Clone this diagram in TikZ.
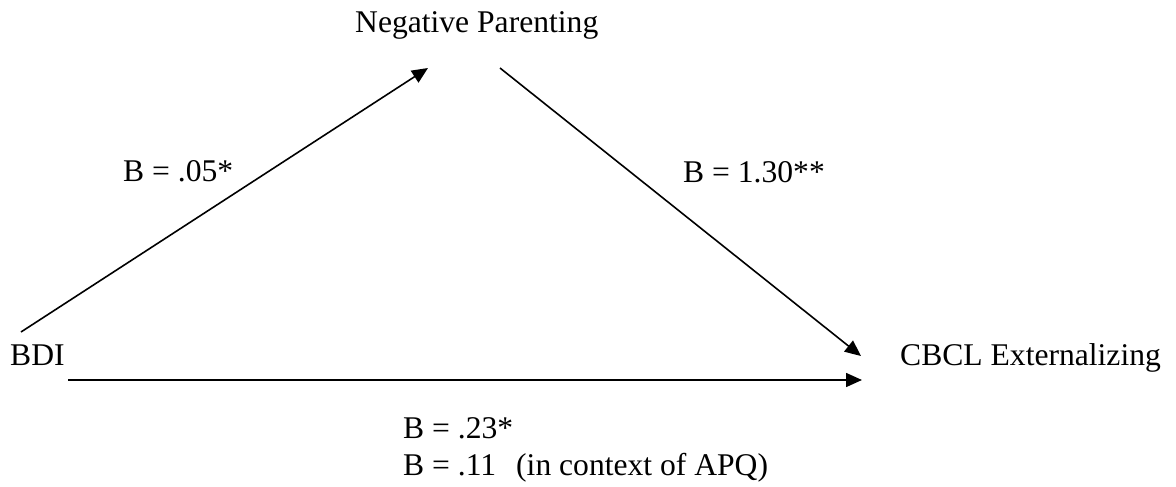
\documentclass[tikz,border=0pt]{standalone}
\usepackage{fontspec}
\setmainfont{Liberation Serif}
\usetikzlibrary{arrows.meta}
\begin{document}
\begin{tikzpicture}[x=1pt,y=-1pt,
  lbl/.style={anchor=base west,inner sep=0pt,font=\fontsize{31.6}{37}\selectfont},
  conn/.style={line width=1.6pt,-{Triangle[length=16pt,width=14pt]}}]
\useasboundingbox (0,0) rectangle (1176,487);
\node[lbl] (np) at (355,33) {Negative Parenting};
\node[lbl] (bdi) at (10,365) {BDI};
\node[lbl] (cbcl) at (900,365) {CBCL Externalizing};
\node[lbl] (b1) at (123,181) {B = .05*};
\node[lbl] (b2) at (683,182) {B = 1.30**};
\node[lbl] (b3) at (403,438) {B = .23*};
\node[lbl] (b4) at (403,475) {B = .11\hspace{20pt}(in context of APQ)};
\coordinate (a1s) at (21,332);
\coordinate (a1e) at (428,68);
\coordinate (a2s) at (500,68);
\coordinate (a2e) at (861,356);
\coordinate (a3s) at (68,380);
\coordinate (a3e) at (862,380);
\draw[conn] (a1s) -- (a1e);
\draw[conn] (a2s) -- (a2e);
\draw[conn] (a3s) -- (a3e);
\end{tikzpicture}
\end{document}
